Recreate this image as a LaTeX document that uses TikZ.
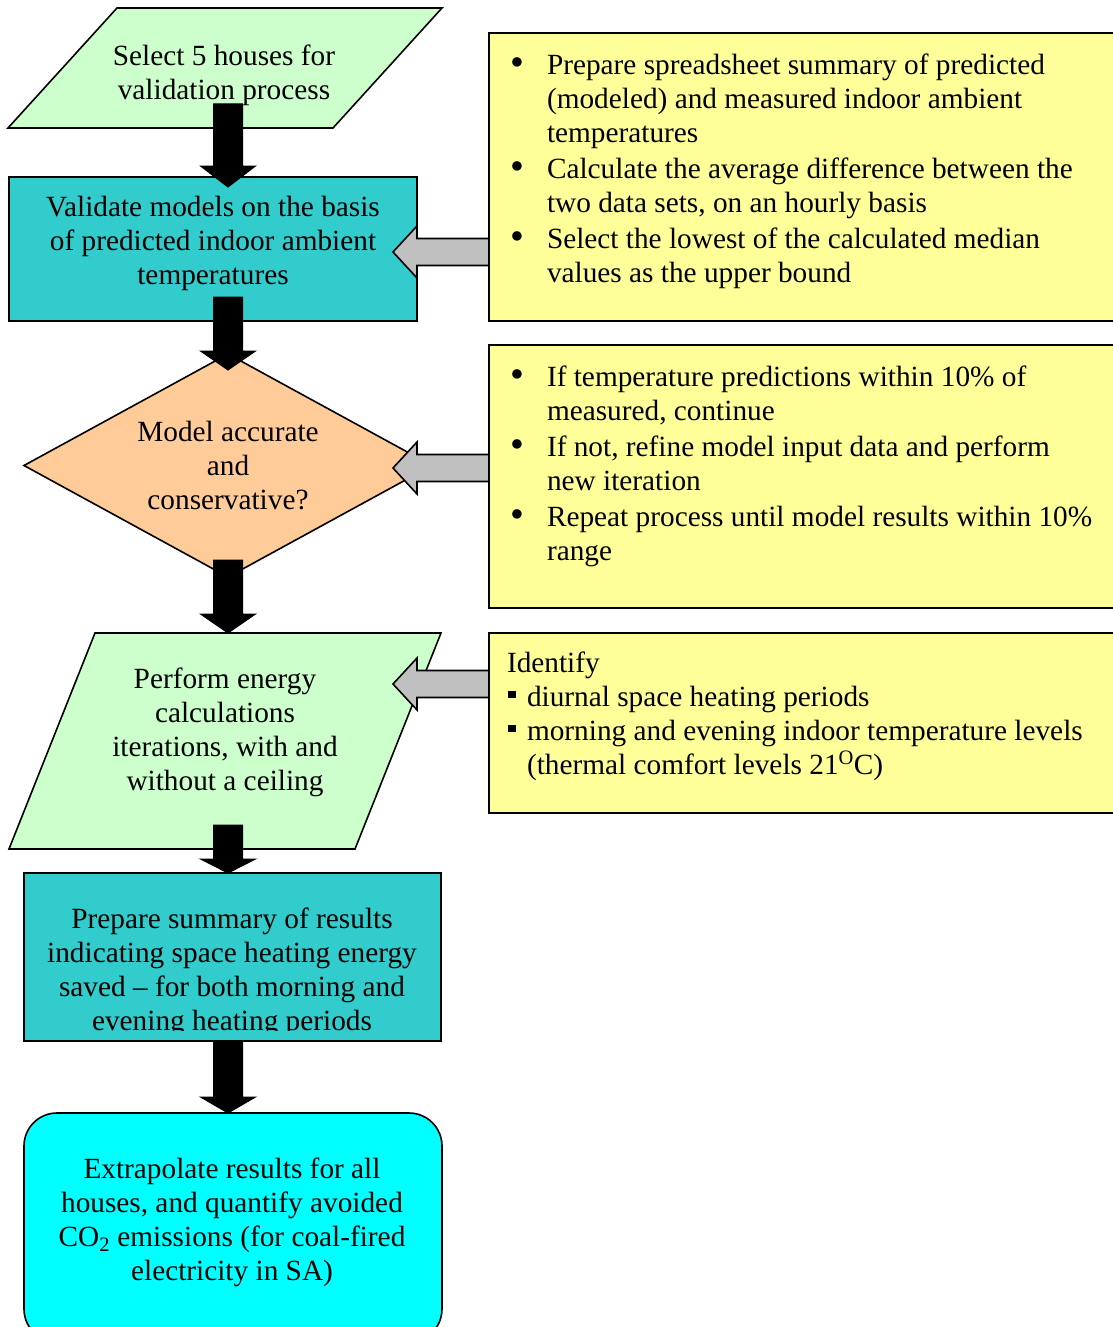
\documentclass[tikz,border=0pt]{standalone}
\usepackage{fontspec}
\setmainfont{Liberation Serif}
\usetikzlibrary{calc}
\definecolor{lgreen}{HTML}{CCFFCC}
\definecolor{tealc}{HTML}{33CCCC}
\definecolor{peach}{HTML}{FFCC99}
\definecolor{yel}{HTML}{FFFF99}
\definecolor{cyanc}{HTML}{00FFFF}
\definecolor{grayc}{HTML}{C0C0C0}
\newcommand\bul{\llap{\makebox[37pt][l]{\raisebox{-1.5pt}{\scalebox{1.35}{•}}}}}
\newcommand\sqb{\hspace*{1pt}\raisebox{8pt}{\rule{7.5pt}{7.5pt}}\hspace{11.5pt}}
\newcommand\blackarrow[3]{\fill[black, draw=black, line width=1pt] let \p1=(#1), \p2=(#2) in
  (\x1-14.5pt,\y1) -- (\x1+14.5pt,\y1) -- (\x1+14.5pt,\y2+#3) -- (\x1+27.5pt,\y2+#3) --
  (\x2,\y2) -- (\x1-27.5pt,\y2+#3) -- (\x1-14.5pt,\y2+#3) -- cycle;}
\newcommand\grayarrow[1]{\draw[garrow] ($(#1)+(0,-13.5)$) -- ++(-72,0) -- ++(0,-12.5) -- ++(-24,26)
  -- ++(24,26) -- ++(0,-12.5) -- ++(72,0) -- cycle;}
\begin{document}
\begin{tikzpicture}[x=1pt,y=-1pt,
  every node/.style={font=\fontsize{29.3}{34}\selectfont, inner sep=0pt, outer sep=0pt},
  frame/.style={draw=none},
  edge/.style={draw=black, line width=1.6pt, line join=miter},
  boxst/.style={edge, draw},
  txt/.style={align=center},
  ltxt/.style={align=left, anchor=north west},
  garrow/.style={draw=black, line width=1.6pt, fill=grayc, line join=miter}]
\useasboundingbox (0,0) rectangle (1112,1327);

% right-hand yellow boxes
\node[boxst, fill=yel, minimum width=626pt, minimum height=288pt] (ya) at (802,177) {};
\node[boxst, fill=yel, minimum width=626pt, minimum height=263pt] (yb) at (802,476.5) {};
\node[boxst, fill=yel, minimum width=626pt, minimum height=180pt] (yc) at (802,723) {};

% parallelogram 1
\node[frame, minimum width=434pt, minimum height=120pt] (p1) at (225,68) {};
\draw[edge, fill=lgreen] (p1.south west) -- ($(p1.north west)+(109,0)$) -- (p1.north east)
  -- ($(p1.south east)+(-109,0)$) -- cycle;
% box 2
\node[boxst, fill=tealc, minimum width=408pt, minimum height=144pt] (b2) at (213,249) {};
% diamond
\node[frame, minimum width=408pt, minimum height=223pt] (d) at (228,465.5) {};
\draw[edge, fill=peach] (d.west) -- (d.north) -- (d.east) -- (d.south) -- cycle;
% parallelogram 2
\node[frame, minimum width=432pt, minimum height=216pt] (p2) at (225,741) {};
\draw[edge, fill=lgreen] (p2.south west) -- ($(p2.north west)+(86,0)$) -- (p2.north east)
  -- ($(p2.south east)+(-86,0)$) -- cycle;
% box 5
\node[boxst, fill=tealc, minimum width=417pt, minimum height=168pt] (b5) at (232.5,957) {};
% box 6
\node[boxst, fill=cyanc, rounded corners=33pt, minimum width=418pt, minimum height=229pt] (b6) at (233,1227.5) {};

% texts
\node[txt] (p1t) at (224,75) {Select 5 houses for\\validation process};
\node[txt] (b2t) at (213,243) {Validate models on the basis\\of predicted indoor ambient\\temperatures};
\node[txt] (dt) at (228,466) {Model accurate\\and\\conservative?};
\node[txt] (p2t) at (225,732) {Perform energy\\calculations\\iterations, with and\\without a ceiling};
\begin{scope}
\clip (b5.north west) rectangle ($(b5.south east)+(0,-11)$);
\node[txt] (b5t) at (232,972) {Prepare summary of results\\indicating space heating energy\\saved -- for both morning and\\evening heating periods};
\end{scope}
\node[txt] (b6t) at (232,1222) {Extrapolate results for all\\houses, and quantify avoided\\CO\textsubscript{2} emissions (for coal-fired\\electricity in SA)};

\node[ltxt] (yat) at (547,50.2) {\strut\bul Prepare spreadsheet summary of predicted\\
(modeled) and measured indoor ambient\\
temperatures\\[2pt]
\bul Calculate the average difference between the\\
two data sets, on an hourly basis\\[2pt]
\bul Select the lowest of the calculated median\\
values as the upper bound};
\node[ltxt] (ybt) at (547,362.2) {\strut\bul If temperature predictions within 10\% of\\
measured, continue\\[2pt]
\bul If not, refine model input data and perform\\
new iteration\\[2pt]
\bul Repeat process until model results within 10\%\\
range};
\node[ltxt] (yct) at (507,648.2) {\strut Identify\\
\sqb diurnal space heating periods\\
\sqb morning and evening indoor temperature levels\\
\hspace*{20pt}(thermal comfort levels 21\textsuperscript{O}C)};

% grey block arrows from the notes
\coordinate (ga) at ($(ya.west)+(0,75)$);
\coordinate (gb) at ($(yb.west)+(0,-8.5)$);
\coordinate (gc) at ($(yc.west)+(0,-39)$);
\grayarrow{ga}
\grayarrow{gb}
\grayarrow{gc}

% black block arrows of the flow
\blackarrow{$(p1.south -| d.center)+(0,-24)$}{$(b2.north -| d.center)+(0,10)$}{21pt}
\blackarrow{$(b2.south -| d.center)+(0,-24)$}{$(d.north)+(0,16)$}{19pt}
\blackarrow{$(d.south)+(0,-17)$}{$(p2.north -| d.center)$}{19pt}
\blackarrow{$(p2.south -| d.center)+(0,-24)$}{$(b5.north -| d.center)$}{14pt}
\blackarrow{$(b5.south -| d.center)$}{$(b6.north -| d.center)$}{16pt}
\end{tikzpicture}
\end{document}
